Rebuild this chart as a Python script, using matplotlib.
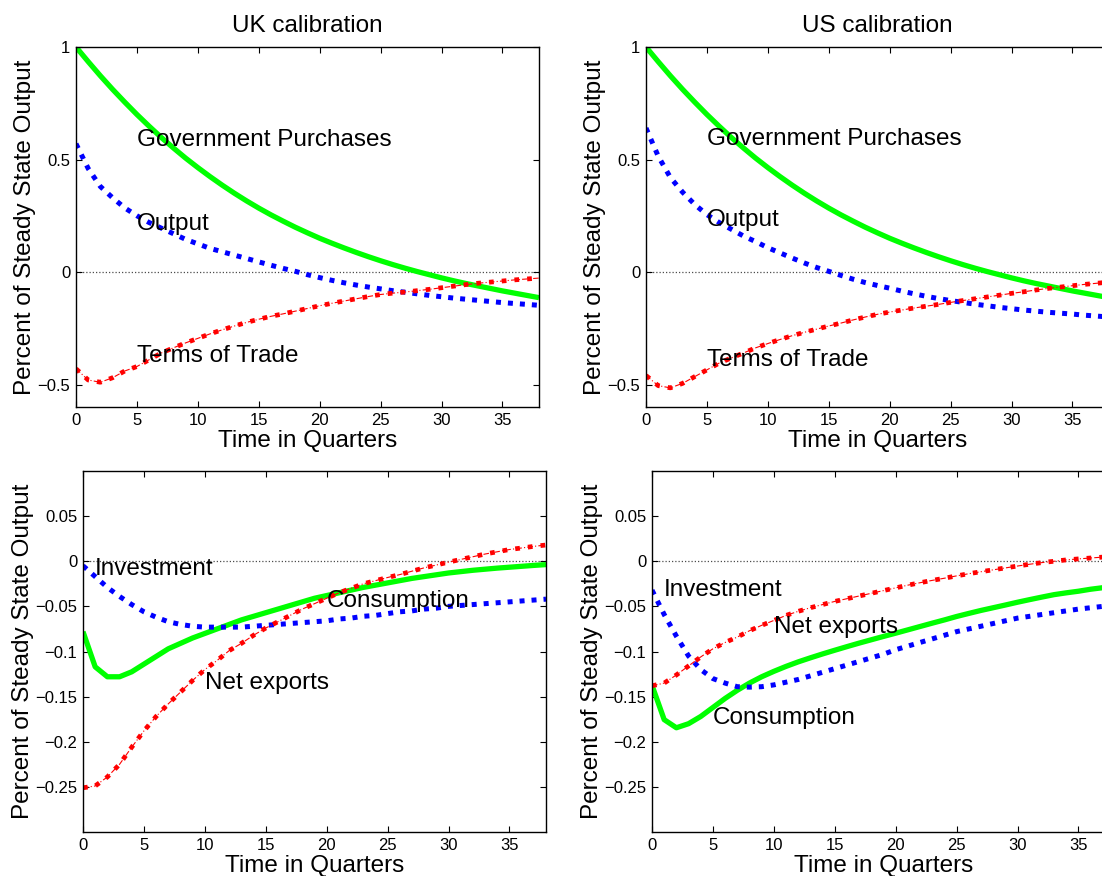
import matplotlib
matplotlib.use("Agg")
import matplotlib.pyplot as plt

plt.rcParams['font.family'] = ['Liberation Sans', 'DejaVu Sans']

# ---- data: responses to a government purchases shock, by quarter ----
quarters = list(range(39))

gov_purchases = [1.0, 0.935, 0.872, 0.812, 0.755, 0.700, 0.648, 0.598, 0.551, 0.506,
                 0.464, 0.424, 0.386, 0.350, 0.316, 0.284, 0.254, 0.226, 0.199, 0.174,
                 0.150, 0.128, 0.107, 0.087, 0.068, 0.050, 0.033, 0.017, 0.002, -0.012,
                 -0.026, -0.039, -0.051, -0.062, -0.073, -0.084, -0.094, -0.104, -0.114]

uk_output = [0.57, 0.46, 0.38, 0.33, 0.285, 0.25, 0.22, 0.195, 0.17, 0.145,
             0.125, 0.105, 0.09, 0.075, 0.06, 0.045, 0.03, 0.016, 0.003, -0.012,
             -0.025, -0.037, -0.048, -0.058, -0.067, -0.075, -0.083, -0.09, -0.097, -0.104,
             -0.11, -0.116, -0.121, -0.126, -0.131, -0.136, -0.14, -0.144, -0.148]

uk_terms_of_trade = [-0.43, -0.48, -0.49, -0.47, -0.44, -0.42, -0.39, -0.36, -0.337, -0.315,
                     -0.295, -0.275, -0.257, -0.24, -0.224, -0.21, -0.197, -0.186, -0.174, -0.162,
                     -0.15, -0.139, -0.129, -0.119, -0.109, -0.1, -0.094, -0.089, -0.083, -0.077,
                     -0.07, -0.063, -0.056, -0.05, -0.045, -0.04, -0.035, -0.031, -0.027]

us_output = [0.64, 0.515, 0.42, 0.355, 0.3, 0.255, 0.22, 0.19, 0.16, 0.135,
             0.108, 0.085, 0.062, 0.04, 0.02, 0.003, -0.015, -0.032, -0.047, -0.06,
             -0.072, -0.085, -0.097, -0.108, -0.118, -0.127, -0.135, -0.143, -0.15, -0.157,
             -0.163, -0.169, -0.174, -0.179, -0.183, -0.187, -0.192, -0.196, -0.2]

us_terms_of_trade = [-0.46, -0.505, -0.515, -0.495, -0.465, -0.435, -0.405, -0.382, -0.36, -0.337,
                     -0.318, -0.3, -0.283, -0.268, -0.254, -0.24, -0.227, -0.213, -0.2, -0.188,
                     -0.178, -0.169, -0.16, -0.152, -0.144, -0.135, -0.127, -0.119, -0.111, -0.103,
                     -0.095, -0.088, -0.08, -0.073, -0.067, -0.061, -0.055, -0.05, -0.045]

uk_investment = [-0.005, -0.017, -0.029, -0.039, -0.048, -0.056, -0.062, -0.067, -0.070, -0.072,
                 -0.073, -0.073, -0.073, -0.073, -0.072, -0.071, -0.070, -0.069, -0.068, -0.067,
                 -0.066, -0.064, -0.063, -0.061, -0.060, -0.058, -0.056, -0.055, -0.053, -0.052,
                 -0.050, -0.049, -0.048, -0.047, -0.046, -0.045, -0.044, -0.043, -0.042]

uk_consumption = [-0.078, -0.117, -0.128, -0.128, -0.1225, -0.114, -0.1055, -0.097, -0.091, -0.085,
                  -0.080, -0.075, -0.070, -0.065, -0.061, -0.057, -0.053, -0.049, -0.045, -0.041,
                  -0.038, -0.035, -0.032, -0.029, -0.0265, -0.024, -0.0215, -0.019, -0.017, -0.015,
                  -0.013, -0.0115, -0.010, -0.0088, -0.0076, -0.0066, -0.0056, -0.0046, -0.0037]

uk_net_exports = [-0.251, -0.249, -0.239, -0.225, -0.206, -0.188, -0.172, -0.158, -0.145, -0.132,
                  -0.120, -0.110, -0.099, -0.091, -0.082, -0.074, -0.067, -0.060, -0.053, -0.047,
                  -0.041, -0.035, -0.030, -0.025, -0.0215, -0.018, -0.0148, -0.011, -0.0073, -0.0042,
                  -0.001, 0.002, 0.005, 0.008, 0.0105, 0.013, 0.0147, 0.0165, 0.018]

us_investment = [-0.032, -0.059, -0.083, -0.105, -0.12, -0.13, -0.135, -0.139, -0.1395, -0.139,
                 -0.137, -0.134, -0.131, -0.127, -0.123, -0.119, -0.115, -0.111, -0.107, -0.103,
                 -0.098, -0.094, -0.090, -0.086, -0.082, -0.078, -0.075, -0.072, -0.069, -0.066,
                 -0.063, -0.061, -0.059, -0.057, -0.055, -0.053, -0.0515, -0.050, -0.049]

us_consumption = [-0.1375, -0.1755, -0.1845, -0.180, -0.172, -0.162, -0.152, -0.143, -0.135, -0.128,
                  -0.122, -0.1165, -0.1115, -0.107, -0.1027, -0.0986, -0.0946, -0.0907, -0.087, -0.0833,
                  -0.0797, -0.076, -0.0723, -0.0686, -0.065, -0.0612, -0.0578, -0.0545, -0.0515, -0.0485,
                  -0.0454, -0.0425, -0.0397, -0.037, -0.035, -0.0332, -0.031, -0.0293, -0.0275]

us_net_exports = [-0.138, -0.135, -0.126, -0.116, -0.106, -0.097, -0.090, -0.084, -0.077, -0.071,
                  -0.0656, -0.060, -0.0555, -0.0515, -0.048, -0.0445, -0.0415, -0.0385, -0.0355, -0.0325,
                  -0.0295, -0.0265, -0.0238, -0.0212, -0.0188, -0.0162, -0.0138, -0.0116, -0.0095, -0.0074,
                  -0.0053, -0.0033, -0.0015, 0.0, 0.0015, 0.0026, 0.0036, 0.0046, 0.0055]

panel_titles = ["UK calibration", "US calibration"]
x_label = "Time in Quarters"
y_label = "Percent of Steady State Output"
x_ticks = [0, 5, 10, 15, 20, 25, 30, 35]
top_y_ticks = [-0.5, 0, 0.5, 1]
top_y_labels = ["\u22120.5", "0", "0.5", "1"]
bottom_y_ticks = [-0.25, -0.2, -0.15, -0.1, -0.05, 0, 0.05]
bottom_y_labels = ["\u22120.25", "\u22120.2", "\u22120.15", "\u22120.1", "\u22120.05", "0", "0.05"]

# ---- styling ----
GREEN = "#00ff00"
BLUE = "#0000ff"
RED = "#ff0000"
BIG = 17.5
SMALL = 12

W, H = 1102, 876
fig = plt.figure(figsize=(W / 100, H / 100), dpi=100)


def make_axes(left, top, bottom, width=463):
    return fig.add_axes([left / W, (H - bottom) / H, width / W, (bottom - top) / H])


def solid(ax, y):
    ax.plot(quarters, y, color=GREEN, lw=3.8, solid_capstyle="butt", zorder=2)


def dotted(ax, y):
    ax.plot(quarters, y, color=BLUE, lw=3.6, linestyle=(0, (1, 1.4)),
            dash_capstyle="butt", zorder=2)


def dashdot(ax, y):
    ax.plot(quarters, y, color=RED, lw=0.8, linestyle=(0, (5, 2, 1, 2)), zorder=2)
    ax.plot(quarters, y, color=RED, lw=3.4, linestyle=(0, (1, 1.7)),
            dash_capstyle="butt", zorder=2)


def dress(ax, ylim, yticks, ylabels):
    ax.axhline(0, color="0.3", lw=0.9, linestyle=(0, (1, 1.6)), zorder=1)
    ax.set_xlim(0, 38)
    ax.set_ylim(*ylim)
    ax.set_xticks(x_ticks)
    ax.set_xticklabels([str(t) for t in x_ticks])
    ax.set_yticks(yticks)
    ax.set_yticklabels(ylabels)
    ax.tick_params(direction="in", length=4, width=0.8, top=True, right=True,
                   labelsize=SMALL, pad=4)
    for s in ax.spines.values():
        s.set_linewidth(1.0)
        s.set_color("black")
    ax.set_xlabel(x_label, fontsize=BIG, labelpad=2)
    ax.set_ylabel(y_label, fontsize=BIG, labelpad=1)


def label(ax, x, y, s):
    ax.text(x, y, s, fontsize=BIG, ha="left", va="baseline", zorder=3)


# top row: government purchases, output, terms of trade
ax_uk_top = make_axes(76, 47, 407)
ax_us_top = make_axes(646, 47, 407)
# bottom row: investment, consumption, net exports
ax_uk_bot = make_axes(83, 471, 832)
ax_us_bot = make_axes(652, 471, 832)

for ax, title, out, tot in [(ax_uk_top, panel_titles[0], uk_output, uk_terms_of_trade),
                            (ax_us_top, panel_titles[1], us_output, us_terms_of_trade)]:
    dress(ax, (-0.6, 1.0), top_y_ticks, top_y_labels)
    solid(ax, gov_purchases)
    dotted(ax, out)
    dashdot(ax, tot)
    ax.set_title(title, fontsize=BIG, pad=11)

label(ax_uk_top, 5, 0.562, "Government Purchases")
label(ax_uk_top, 5, 0.188, "Output")
label(ax_uk_top, 5, -0.401, "Terms of Trade")
label(ax_us_top, 5, 0.565, "Government Purchases")
label(ax_us_top, 5, 0.203, "Output")
label(ax_us_top, 5, -0.416, "Terms of Trade")

for ax, inv, cons, nx in [(ax_uk_bot, uk_investment, uk_consumption, uk_net_exports),
                          (ax_us_bot, us_investment, us_consumption, us_net_exports)]:
    dress(ax, (-0.3, 0.1), bottom_y_ticks, bottom_y_labels)
    solid(ax, cons)
    dotted(ax, inv)
    dashdot(ax, nx)

label(ax_uk_bot, 1, -0.0151, "Investment")
label(ax_uk_bot, 20, -0.0509, "Consumption")
label(ax_uk_bot, 10, -0.141, "Net exports")
label(ax_us_bot, 1, -0.0387, "Investment")
label(ax_us_bot, 10, -0.0796, "Net exports")
label(ax_us_bot, 5, -0.1807, "Consumption")

fig.savefig("out.png", dpi=100)
